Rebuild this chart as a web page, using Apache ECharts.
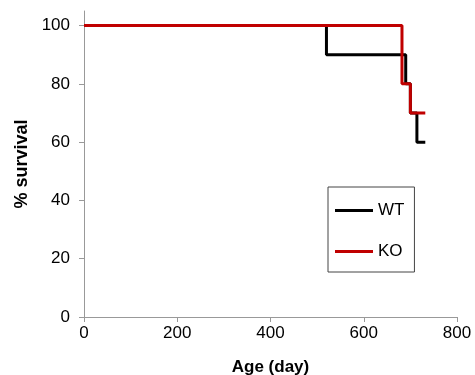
<!DOCTYPE html>
<html>
<head>
<meta charset="utf-8">
<script src="https://cdn.jsdelivr.net/npm/echarts@6/dist/echarts.min.js"></script>
<style>
  html, body { margin: 0; padding: 0; background: #fff; }
  #chart { width: 475px; height: 375px; }
</style>
</head>
<body>
<div id="chart"></div>
<script>
// survival steps: survival value holds from each time point onward
const wtDays = [0, 520, 690, 700, 714, 732]
const wtSurvival = [100, 90, 80, 70, 60, 60]
const koDays = [0, 682, 700, 732]
const koSurvival = [100, 80, 70, 70]
const yTicks = [0, 20, 40, 60, 80, 100]

const pairs = (xs, ys) => xs.map((x, i) => [x, ys[i]])

const font = 'Liberation Sans, Arial, sans-serif'
const chart = echarts.init(document.getElementById('chart'), null, { renderer: 'canvas' })

chart.setOption({
  backgroundColor: '#fff',
  animation: false,
  grid: { left: 84, right: 18, top: 11, bottom: 58, outerBoundsMode: 'none' },
  xAxis: {
    type: 'value',
    min: 0,
    max: 800,
    interval: 200,
    name: 'Age (day)',
    nameLocation: 'middle',
    nameGap: 42,
    nameTextStyle: { fontFamily: font, fontSize: 17, fontWeight: 'bold', color: '#000' },
    axisLine: { lineStyle: { color: '#999', width: 1 } },
    axisTick: { show: true, length: 5, lineStyle: { color: '#999' } },
    axisLabel: { fontFamily: font, fontSize: 17, color: '#000', margin: 8 },
    splitLine: { show: false },
  },
  yAxis: {
    type: 'value',
    min: 0,
    max: 105,
    name: '% survival',
    nameLocation: 'middle',
    nameGap: 51,
    nameTextStyle: { fontFamily: font, fontSize: 18, fontWeight: 'bold', color: '#000' },
    axisLine: { show: true, lineStyle: { color: '#999', width: 1 } },
    axisTick: { show: true, length: 5, lineStyle: { color: '#999' }, customValues: yTicks },
    axisLabel: { fontFamily: font, fontSize: 17, color: '#000', margin: 14, customValues: yTicks },
    splitLine: { show: false },
  },
  legend: {
    orient: 'vertical',
    left: 328,
    top: 187,
    padding: [15, 10, 12, 7],
    icon: 'rect',
    itemWidth: 38,
    itemHeight: 3,
    itemGap: 24,
    borderColor: '#444',
    borderWidth: 1,
    textStyle: { fontFamily: font, fontSize: 17, color: '#000' },
    data: ['WT', 'KO'],
  },
  series: [
    {
      name: 'WT',
      type: 'line',
      step: 'end',
      symbol: 'none',
      lineStyle: { color: '#000', width: 3 },
      itemStyle: { color: '#000' },
      data: pairs(wtDays, wtSurvival),
      z: 2,
    },
    {
      name: 'KO',
      type: 'line',
      step: 'end',
      symbol: 'none',
      lineStyle: { color: '#c00000', width: 3 },
      itemStyle: { color: '#c00000' },
      data: pairs(koDays, koSurvival),
      z: 3,
    },
  ],
})
</script>
</body>
</html>
